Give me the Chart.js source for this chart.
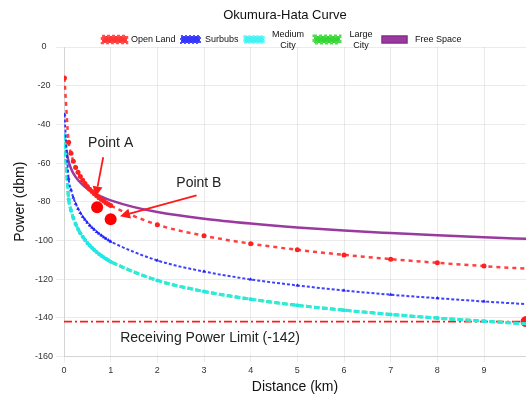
<!DOCTYPE html>
<html><head><meta charset="utf-8">
<script src="https://cdn.jsdelivr.net/npm/chart.js@4"></script>
<style>html,body{margin:0;padding:0;background:#fff}</style>
</head><body>
<canvas id="c" width="526" height="402"></canvas>
<script>
const FONT = "'Liberation Sans', Arial, Helvetica, sans-serif";
const distances = [0.01, 0.1, 0.15, 0.2, 0.25, 0.3, 0.35, 0.4, 0.45, 0.5, 0.55, 0.6, 0.65, 0.7, 0.75, 0.8, 0.85, 0.9, 0.95, 1, 2, 3, 4, 5, 6, 7, 8, 9, 10];
const openLand = [-16, -49.2, -55.0, -59.1, -62.3, -64.8, -67.0, -68.9, -70.6, -72.1, -73.5, -74.7, -75.9, -76.9, -77.9, -78.8, -79.7, -80.5, -81.3, -82.0, -91.9, -97.6, -101.7, -104.9, -107.5, -109.7, -111.6, -113.3, -114.8];
const suburbs = [-35, -68.1, -73.8, -77.9, -81.0, -83.6, -85.8, -87.7, -89.3, -90.8, -92.2, -93.4, -94.5, -95.6, -96.5, -97.4, -98.3, -99.1, -99.9, -100.6, -110.4, -116.1, -120.2, -123.3, -125.9, -128.1, -129.9, -131.6, -133.1];
const mediumCity = [-45.5, -78.7, -84.4, -88.4, -91.6, -94.1, -96.3, -98.1, -99.8, -101.3, -102.6, -103.8, -105.0, -106.0, -107.0, -107.9, -108.7, -109.5, -110.3, -111.0, -120.7, -126.4, -130.4, -133.6, -136.1, -138.3, -140.2, -141.8, -143.3];
const largeCity = [-45.5, -78.7, -84.4, -88.4, -91.6, -94.1, -96.3, -98.1, -99.8, -101.3, -102.6, -103.8, -105.0, -106.0, -107.0, -107.9, -108.7, -109.5, -110.3, -111.0, -120.7, -126.4, -130.4, -133.6, -136.1, -138.3, -140.2, -141.8, -143.3];
const freeSpaceDist = [0.05, 0.1, 0.15, 0.2, 0.3, 0.4, 0.5, 0.6, 0.7, 0.8, 0.9, 1, 1.5, 2, 3, 4, 5, 6, 7, 8, 9, 10];
const freeSpace = [-53.3, -59.3, -62.8, -65.3, -68.8, -71.3, -73.3, -74.9, -76.2, -77.4, -78.4, -79.3, -82.8, -85.3, -88.8, -91.3, -93.3, -94.9, -96.2, -97.4, -98.4, -99.3];
const limitX = [0, 9.9];
const limitY = [-142, -142];
const markX = [0.71, 1.0];
const markY = [-82.9, -89.1];
const markNames = ['Point A', 'Point B'];
const seriesNames = ['Open Land', 'Surbubs', ['Medium', 'City'], ['Large', 'City'], 'Free Space'];
const limitName = 'Receiving Power Limit (-142)';
const chartTitle = 'Okumura-Hata Curve';

const pts = (xs, ys) => xs.map((v, i) => ({x: v, y: ys[i]}));

// legend box geometry (screen layout only)
const legendLayout = [
  {box: [102, 36, 25, 7], lw: 2.5, dash: [3, 2], textX: 131},
  {box: [181, 36, 19, 7], lw: 2, dash: [2, 2], textX: 205},
  {box: [244, 36, 20, 7], lw: 1.5, dash: [3, 1], textX: 288},
  {box: [314, 36, 26, 7], lw: 3, dash: [3, 2], textX: 361},
  {box: [382, 36, 25, 7], lw: 1.5, dash: [], textX: 415}
];

const annot = {
  id: 'annot',
  afterDatasetsDraw(chart) {
    const {ctx, scales: {x, y}} = chart;
    ctx.save();
    const lx = x.getPixelForValue(3.13), ly = y.getPixelForValue(-150.8);
    ctx.font = '14px ' + FONT;
    const tw = ctx.measureText(limitName).width;
    ctx.fillStyle = 'rgba(255,255,255,0.6)';
    ctx.fillRect(lx - tw / 2 - 6, ly - 15, tw + 12, 30);
    ctx.fillStyle = '#222';
    ctx.textAlign = 'center';
    ctx.textBaseline = 'middle';
    ctx.fillText(limitName, lx, ly);
    ctx.fillText(markNames[0], x.getPixelForValue(1.0), y.getPixelForValue(-49.7));
    ctx.fillText(markNames[1], x.getPixelForValue(2.89), y.getPixelForValue(-70.5));
    const arrow = (x1, y1, x2, y2) => {
      const X1 = x.getPixelForValue(x1), Y1 = y.getPixelForValue(y1);
      const X2 = x.getPixelForValue(x2), Y2 = y.getPixelForValue(y2);
      const a = Math.atan2(Y2 - Y1, X2 - X1);
      const hl = 10, hw = 5;
      ctx.strokeStyle = '#ff1a1a'; ctx.fillStyle = '#ff1a1a'; ctx.lineWidth = 1.8;
      ctx.beginPath(); ctx.moveTo(X1, Y1);
      ctx.lineTo(X2 - Math.cos(a) * hl, Y2 - Math.sin(a) * hl); ctx.stroke();
      ctx.beginPath(); ctx.moveTo(X2, Y2);
      ctx.lineTo(X2 - Math.cos(a) * hl - Math.sin(a) * hw, Y2 - Math.sin(a) * hl + Math.cos(a) * hw);
      ctx.lineTo(X2 - Math.cos(a) * hl + Math.sin(a) * hw, Y2 - Math.sin(a) * hl - Math.cos(a) * hw);
      ctx.closePath(); ctx.fill();
    };
    arrow(0.84, -57, 0.68, -77.3);
    arrow(2.84, -76.7, 1.20, -87.5);
    ctx.restore();
  },
  afterDraw(chart) {
    const ctx = chart.ctx;
    ctx.save();
    ctx.fillStyle = '#111';
    ctx.font = '13px ' + FONT;
    ctx.textAlign = 'center';
    ctx.textBaseline = 'middle';
    ctx.fillText(chartTitle, 285, 15);
    ctx.font = '9px ' + FONT;
    legendLayout.forEach((L, i) => {
      const ds = chart.data.datasets[i];
      const [bx, by, bw, bh] = L.box;
      ctx.fillStyle = ds.backgroundColor;
      ctx.fillRect(bx, by, bw, bh);
      ctx.strokeStyle = ds.legendBorder;
      ctx.lineWidth = L.lw;
      ctx.setLineDash(L.dash);
      ctx.strokeRect(bx, by, bw, bh);
      ctx.setLineDash([]);
      ctx.fillStyle = '#111';
      const t = seriesNames[i];
      if (Array.isArray(t)) {
        ctx.textAlign = 'center';
        ctx.fillText(t[0], L.textX, 35);
        ctx.fillText(t[1], L.textX, 46);
      } else {
        ctx.textAlign = 'left';
        ctx.fillText(t, L.textX, 40);
      }
    });
    ctx.restore();
  }
};

new Chart(document.getElementById('c'), {
  type: 'line',
  data: {
    datasets: [
      {label: 'Open Land', data: pts(distances, openLand), borderColor: 'rgba(255,30,30,0.85)', backgroundColor: '#ff3535', legendBorder: '#ff5050',
       borderWidth: 2.5, borderDash: [4, 4], pointRadius: 2.5, pointBackgroundColor: '#ff2020', pointBorderWidth: 0, cubicInterpolationMode: 'monotone'},
      {label: 'Surbubs', data: pts(distances, suburbs), borderColor: 'rgba(30,30,255,0.85)', backgroundColor: '#3535ff', legendBorder: '#5050ff',
       borderWidth: 2, borderDash: [3, 2], pointRadius: 2.2, pointStyle: 'triangle', pointBackgroundColor: '#2020ff', pointBorderWidth: 0, cubicInterpolationMode: 'monotone'},
      {label: 'Medium City', data: pts(distances, mediumCity), borderColor: 'rgba(40,240,240,0.9)', backgroundColor: '#40f4f4', legendBorder: '#70f8f8',
       borderWidth: 3, borderDash: [6, 2], pointRadius: 2, pointBackgroundColor: '#20e8e8', pointBorderWidth: 0, cubicInterpolationMode: 'monotone'},
      {label: 'Large City', data: pts(distances, largeCity), borderColor: 'rgba(40,200,40,0.9)', backgroundColor: '#33d633', legendBorder: '#50dd50',
       borderWidth: 3, borderDash: [5, 3], pointRadius: 1.5, pointBackgroundColor: '#30c030', pointBorderWidth: 0, cubicInterpolationMode: 'monotone'},
      {label: 'Free Space', data: pts(freeSpaceDist, freeSpace), borderColor: '#9a3a9e', backgroundColor: '#9a3a9e', legendBorder: '#8a2a8e',
       borderWidth: 2.5, pointRadius: 0, cubicInterpolationMode: 'monotone'},
      {label: limitName, data: pts(limitX, limitY), borderColor: '#ff1a1a', backgroundColor: '#ff1a1a',
       borderWidth: 1.8, borderDash: [8, 3, 2, 3], pointRadius: [0, 5.5], pointBackgroundColor: '#ff1a1a', pointBorderWidth: 0},
      {label: 'Points', data: pts(markX, markY), showLine: false, pointRadius: 6, pointBackgroundColor: '#ff0000', pointBorderWidth: 0, borderColor: '#ff0000', backgroundColor: '#ff0000'}
    ]
  },
  options: {
    responsive: false, animation: false, devicePixelRatio: 1,
    layout: {autoPadding: false, padding: {left: 8, right: 0, top: 47, bottom: 3}},
    plugins: {
      tooltip: {enabled: false},
      title: {display: false},
      legend: {display: false}
    },
    scales: {
      x: {
        type: 'linear', min: 0, max: 9.9,
        ticks: {stepSize: 1, includeBounds: false, color: '#333', font: {family: FONT, size: 9}},
        title: {display: true, text: 'Distance (km)', color: '#111', font: {family: FONT, size: 14}, padding: {top: 0, bottom: 3}},
        grid: {color: 'rgba(0,0,0,0.08)', tickLength: 6}
      },
      y: {
        min: -160, max: 0,
        ticks: {stepSize: 20, crossAlign: 'center', color: '#333', font: {family: FONT, size: 9}},
        title: {display: true, text: 'Power (dbm)', color: '#111', font: {family: FONT, size: 14}},
        grid: {color: 'rgba(0,0,0,0.08)'},
        afterFit(s) { s.width = 56; }
      }
    }
  },
  plugins: [annot]
});
</script>
</body></html>
